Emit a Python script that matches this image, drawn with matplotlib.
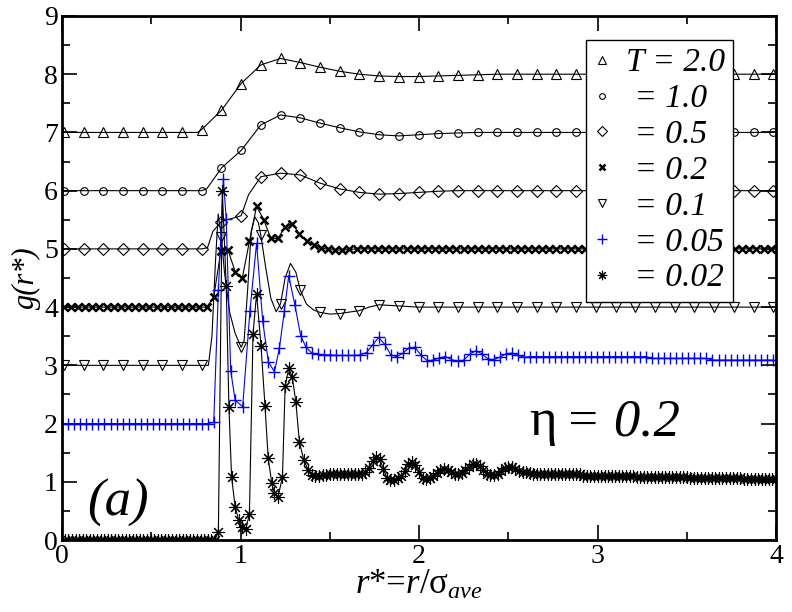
import numpy as np
import matplotlib.pyplot as plt
from matplotlib.lines import Line2D

plt.rcParams['font.family'] = ['Liberation Serif', 'DejaVu Serif']
plt.rcParams['mathtext.fontset'] = 'custom'
plt.rcParams['mathtext.rm'] = 'Liberation Serif'
plt.rcParams['mathtext.it'] = 'Liberation Serif:italic'

# --- data: g(r*) without the vertical offsets ---
# sparse marker grid used by T = 2.0, 1.0, 0.5, 0.1
r_sparse = 0.01 + 0.1104 * np.arange(37)

g_T20 = [0] * 7 + [0.05, 0.38, 0.84, 1.16, 1.27, 1.20, 1.12, 1.05, 1.00,
                   0.97, 0.96, 0.96, 0.97, 0.98, 0.99] + [1.0] * 15
x_T20_r = [0.76]
x_T20_g = [0.0]

g_T10 = [0] * 8 + [0.39, 0.69, 1.13, 1.30, 1.25, 1.16, 1.08, 1.01, 0.96,
                   0.94, 0.96, 0.98, 0.99] + [1.0] * 16
x_T10_r = [0.81, 0.85]
x_T10_g = [0.03, 0.20]

g_T05 = [0] * 8 + [0.47, 0.57, 1.24, 1.30, 1.27, 1.13, 1.03, 0.97, 0.94,
                   0.95, 0.97, 0.99] + [1.0] * 17
x_T05_r = [0.815, 0.845, 1.045]
x_T05_g = [0.02, 0.30, 0.93]

g_T01 = [0] * 8 + [2.2, 0.31, 2.23, 1.06, 1.29, 0.91, 0.89, 0.94, 1.04,
                   1.02] + [1.0] * 19
# extra line points between the markers (sharp peaks)
x_T01_r = [0.82, 0.84, 0.86, 0.875, 0.91, 0.94, 0.97, 1.02, 1.04, 1.06, 1.08,
           1.10, 1.14, 1.17, 1.20, 1.25, 1.28, 1.31, 1.37, 1.41, 1.50, 1.72]
x_T01_g = [0.0, 0.5, 1.8, 2.6, 1.6, 0.9, 0.55, 0.42, 1.3, 2.3, 2.55,
           2.45, 1.7, 1.15, 0.92, 1.5, 1.75, 1.6, 1.05, 0.95, 0.88, 1.0]

# T = 0.2, step 0.04
g_T02 = [0] * 21 + [0.17, 0.97, 0.98, 0.61, 0.50, 1.13, 1.73, 1.50, 1.18,
                    1.18, 1.38, 1.43, 1.26, 1.14, 1.07, 1.02, 0.99, 0.98,
                    0.98, 0.99] + [1.0] * 59
r_T02 = 0.01 + 0.04 * np.arange(len(g_T02))

# T = 0.05 (blue)
g_T005_head = [0] * 25 + [0.02]
r_T005_peak = [0.876, 0.904, 0.92, 0.945, 0.97, 1.012, 1.053, 1.09, 1.124,
               1.156, 1.19, 1.218, 1.246, 1.27, 1.305, 1.337, 1.367]
g_T005_peak = [2.29, 4.2, 3.51, 0.91, 0.4, 0.29, 1.94, 3.1, 1.77,
               1.06, 0.89, 1.3, 1.94, 2.54, 2.03, 1.51, 1.31]
g_T005_tail = [1.21, 1.19, 1.18, 1.18, 1.17, 1.17, 1.17, 1.17, 1.18, 1.22,
               1.35, 1.48, 1.36, 1.18, 1.15, 1.21, 1.30, 1.31, 1.17, 1.08,
               1.09, 1.13, 1.15, 1.10, 1.07, 1.09, 1.19, 1.25, 1.20, 1.11,
               1.10, 1.14, 1.20, 1.21, 1.17, 1.14] + \
              [1.15] * 20 + [1.12] * 10 + [1.09] * 11
r_T005 = np.concatenate([0.034 * np.arange(len(g_T005_head)), r_T005_peak,
                         1.40 + 0.034 * np.arange(len(g_T005_tail))])
g_T005 = np.concatenate([g_T005_head, g_T005_peak, g_T005_tail])

# T = 0.02
g_T002_head = [0] * 43
r_T002_peak = [0.876, 0.898, 0.92, 0.935, 0.95, 0.97, 0.99, 1.01, 1.03, 1.05,
               1.07, 1.09, 1.115, 1.137, 1.155, 1.175, 1.19, 1.21, 1.235,
               1.25, 1.27, 1.29, 1.31, 1.33, 1.355, 1.38, 1.40]
g_T002_peak = [0.14, 6.0, 4.37, 2.29, 1.08, 0.57, 0.34, 0.22, 0.19, 0.45,
               3.54, 4.23, 3.33, 2.31, 1.41, 0.98, 0.81, 0.74, 1.08,
               2.64, 2.95, 2.8, 2.37, 1.68, 1.37, 1.2, 1.11]
g_T002_tail = [1.10, 1.10, 1.11, 1.12, 1.13, 1.13, 1.13, 1.14, 1.14, 1.14,
               1.14, 1.13, 1.13, 1.14, 1.17, 1.24, 1.35, 1.43, 1.40, 1.22,
               1.07, 1.03, 1.03, 1.06, 1.10, 1.18, 1.30, 1.34, 1.28, 1.17,
               1.07, 1.04, 1.06, 1.10, 1.15, 1.20, 1.22, 1.20, 1.16, 1.13,
               1.13, 1.15, 1.20, 1.26, 1.31, 1.31, 1.27, 1.20, 1.14, 1.11,
               1.11, 1.14, 1.18, 1.23, 1.25, 1.25, 1.22, 1.19, 1.17, 1.16,
               1.15] + [1.13] * 14 + [1.10] * 15 + [1.08] * 15 + \
              [1.07] * 15 + [1.05] * 10
r_T002 = np.concatenate([0.016 + 0.02 * np.arange(len(g_T002_head)), r_T002_peak,
                         1.42 + 0.02 * np.arange(len(g_T002_tail))])
g_T002 = np.concatenate([g_T002_head, g_T002_peak, g_T002_tail])

labels = ['T = 2.0', ' = 1.0', ' = 0.5', ' = 0.2', ' = 0.1', ' = 0.05', ' = 0.02']
offsets = [7, 6, 5, 4, 3, 2, 0]

asterisk = (8, 2, 0)
styles = [
    dict(marker='^', ms=7, mfc='none', mec='k', mew=0.8, color='k'),
    dict(marker='o', ms=5.5, mfc='none', mec='k', mew=0.8, color='k'),
    dict(marker='D', ms=6.5, mfc='none', mec='k', mew=0.8, color='k'),
    dict(marker='x', ms=5.5, mec='k', mew=1.8, color='k'),
    dict(marker='v', ms=7, mfc='none', mec='k', mew=0.8, color='k'),
    dict(marker='+', ms=9, mec='b', mew=1.0, color='b'),
    dict(marker=asterisk, ms=9, mec='k', mew=0.8, color='k'),
]

curves = [
    (r_sparse, g_T20, x_T20_r, x_T20_g),
    (r_sparse, g_T10, x_T10_r, x_T10_g),
    (r_sparse, g_T05, x_T05_r, x_T05_g),
    (r_T02, g_T02, [], []),
    (r_sparse, g_T01, x_T01_r, x_T01_g),
    (r_T005, g_T005, [], []),
    (r_T002, g_T002, [], []),
]

fig = plt.figure(figsize=(7.92, 6.12), dpi=100)
ax = fig.add_axes([0.0783, 0.1176, 0.9015, 0.8563])

for (rm, gm, rx, gx), off, st in zip(curves, offsets, styles):
    rm = np.asarray(rm, float)
    gm = np.asarray(gm, float)
    rl = np.concatenate([rm, rx])
    gl = np.concatenate([gm, gx])
    order = np.argsort(rl, kind='stable')
    ax.plot(rl[order], gl[order] + off, '-', color=st['color'], lw=0.8)
    ax.plot(rm, gm + off, ls='none', **{k: v for k, v in st.items() if k != 'color'})

ax.set_xlim(0, 4)
ax.set_ylim(0, 9)
ax.set_xticks([0, 1, 2, 3, 4])
ax.set_xticks(np.arange(0.5, 4, 1), minor=True)
ax.set_yticks(range(10))
ax.set_yticks(np.arange(0.5, 9, 1), minor=True)
ax.tick_params(which='both', direction='in', top=True, right=True, width=1.2,
               labelsize=20, pad=3)
ax.tick_params(which='major', length=11)
ax.tick_params(which='minor', length=6)
for s in ax.spines.values():
    s.set_linewidth(2)

ax.set_xlabel(r'$r$*=$r$/σ$_{ave}$', fontsize=25, labelpad=0)
ax.set_ylabel('g(r*)', fontsize=22, fontstyle='italic', labelpad=2)

ax.text(2.62, 1.8, 'η', fontsize=38)
ax.text(2.82, 1.8, '= 0.2', fontsize=38, fontstyle='italic')
ax.text(0.14, 0.42, '(a)', fontsize=38, fontstyle='italic')

handles = []
for st in styles:
    leg_st = dict(st)
    leg_st['ms'] = st['ms'] * 0.75
    handles.append(Line2D([], [], ls='none', **{k: v for k, v in leg_st.items() if k != 'color'}))
leg = ax.legend(handles, labels, loc='upper right', bbox_to_anchor=(0.94, 0.955),
                borderaxespad=0, prop={'size': 24, 'style': 'italic'},
                handlelength=0.5, handletextpad=0.45, labelspacing=0.16,
                borderpad=0.25, fancybox=False, framealpha=1, edgecolor='k')
leg.get_frame().set_linewidth(1.0)

fig.savefig('out.png', dpi=100)
